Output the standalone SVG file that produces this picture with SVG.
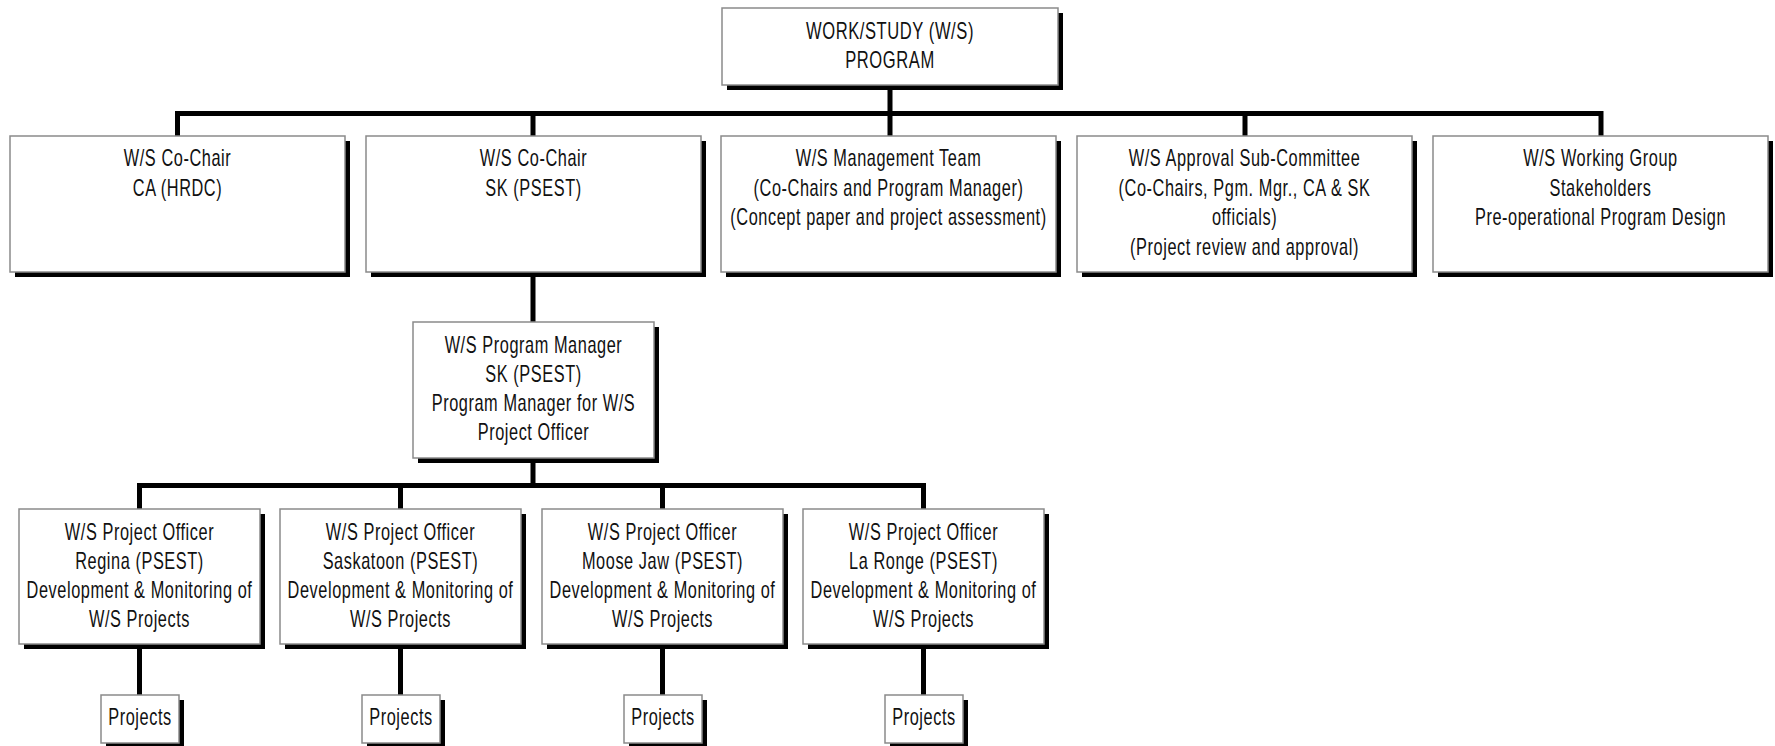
<svg xmlns="http://www.w3.org/2000/svg" width="1775" height="746" viewBox="0 0 1775 746">
<style>
.box{fill:#fff;stroke:#8a8a8a;stroke-width:1.5}
.shd{fill:#000}
.conn{fill:none;stroke:#000;stroke-width:5;stroke-linecap:square}
text{font-family:"Liberation Sans",Arial,sans-serif;font-size:23px;letter-spacing:0.8px;fill:#111;text-anchor:middle}
</style>
<rect width="1775" height="746" fill="#fff"/>
<g id="connectors">
<path class="conn" d="M890 86V113.5M177.5 113.5H1601M177.5 113.5V136M533 113.5V136M890 113.5V136M1245 113.5V136M1601 113.5V136"/>
<path class="conn" d="M533 272V322M533 458V485.5M139.5 485.5H923.5M139.5 485.5V509M400.5 485.5V509M662.5 485.5V509M923.5 485.5V509"/>
<path class="conn" d="M139.5 644V695M400.5 644V695M662.5 644V695M923.5 644V695"/>
</g>
<g id="n-top"><rect class="shd" x="727" y="13" width="336" height="77"/><rect class="box" x="722" y="8" width="336" height="77"/>
<g transform="translate(890 0) scale(0.72 1)"><text y="39.5">WORK/STUDY (W/S)</text><text y="68.5">PROGRAM</text></g></g>
<g id="n-cochair-ca"><rect class="shd" x="15" y="141" width="335" height="136"/><rect class="box" x="10" y="136" width="335" height="136"/>
<g transform="translate(177.5 0) scale(0.71 1)"><text y="166.5">W/S Co-Chair</text><text y="196">CA (HRDC)</text></g></g>
<g id="n-cochair-sk"><rect class="shd" x="371" y="141" width="335" height="136"/><rect class="box" x="366" y="136" width="335" height="136"/>
<g transform="translate(533.5 0) scale(0.71 1)"><text y="166.5">W/S Co-Chair</text><text y="196">SK (PSEST)</text></g></g>
<g id="n-mgmt"><rect class="shd" x="726" y="141" width="335" height="136"/><rect class="box" x="721" y="136" width="335" height="136"/>
<g transform="translate(888.5 0) scale(0.71 1)"><text y="166.5">W/S Management Team</text><text y="196">(Co-Chairs and Program Manager)</text><text y="225.5">(Concept paper and project assessment)</text></g></g>
<g id="n-approval"><rect class="shd" x="1082" y="141" width="335" height="136"/><rect class="box" x="1077" y="136" width="335" height="136"/>
<g transform="translate(1244.5 0) scale(0.71 1)"><text y="166.5">W/S Approval Sub-Committee</text><text y="196">(Co-Chairs, Pgm. Mgr., CA &amp; SK</text><text y="225.5">officials)</text><text y="255">(Project review and approval)</text></g></g>
<g id="n-working"><rect class="shd" x="1438" y="141" width="335" height="136"/><rect class="box" x="1433" y="136" width="335" height="136"/>
<g transform="translate(1600.5 0) scale(0.71 1)"><text y="166.5">W/S Working Group</text><text y="196">Stakeholders</text><text y="225.5">Pre-operational Program Design</text></g></g>
<g id="n-pm"><rect class="shd" x="418" y="327" width="241" height="136"/><rect class="box" x="413" y="322" width="241" height="136"/>
<g transform="translate(533.5 0) scale(0.71 1)"><text y="353">W/S Program Manager</text><text y="382">SK (PSEST)</text><text y="411">Program Manager for W/S</text><text y="440">Project Officer</text></g></g>
<g id="n-po-regina"><rect class="shd" x="24" y="514" width="241" height="135"/><rect class="box" x="19" y="509" width="241" height="135"/>
<g transform="translate(139.5 0) scale(0.71 1)"><text y="540">W/S Project Officer</text><text y="569">Regina (PSEST)</text><text y="598">Development &amp; Monitoring of</text><text y="627">W/S Projects</text></g></g>
<g id="n-po-saskatoon"><rect class="shd" x="285" y="514" width="241" height="135"/><rect class="box" x="280" y="509" width="241" height="135"/>
<g transform="translate(400.5 0) scale(0.71 1)"><text y="540">W/S Project Officer</text><text y="569">Saskatoon (PSEST)</text><text y="598">Development &amp; Monitoring of</text><text y="627">W/S Projects</text></g></g>
<g id="n-po-moosejaw"><rect class="shd" x="547" y="514" width="241" height="135"/><rect class="box" x="542" y="509" width="241" height="135"/>
<g transform="translate(662.5 0) scale(0.71 1)"><text y="540">W/S Project Officer</text><text y="569">Moose Jaw (PSEST)</text><text y="598">Development &amp; Monitoring of</text><text y="627">W/S Projects</text></g></g>
<g id="n-po-laronge"><rect class="shd" x="808" y="514" width="241" height="135"/><rect class="box" x="803" y="509" width="241" height="135"/>
<g transform="translate(923.5 0) scale(0.71 1)"><text y="540">W/S Project Officer</text><text y="569">La Ronge (PSEST)</text><text y="598">Development &amp; Monitoring of</text><text y="627">W/S Projects</text></g></g>
<g id="n-proj-1"><rect class="shd" x="106" y="700" width="78" height="48"/><rect class="box" x="101" y="695" width="78" height="48"/>
<g transform="translate(140 0) scale(0.71 1)"><text y="725">Projects</text></g></g>
<g id="n-proj-2"><rect class="shd" x="367" y="700" width="78" height="48"/><rect class="box" x="362" y="695" width="78" height="48"/>
<g transform="translate(401 0) scale(0.71 1)"><text y="725">Projects</text></g></g>
<g id="n-proj-3"><rect class="shd" x="629" y="700" width="78" height="48"/><rect class="box" x="624" y="695" width="78" height="48"/>
<g transform="translate(663 0) scale(0.71 1)"><text y="725">Projects</text></g></g>
<g id="n-proj-4"><rect class="shd" x="890" y="700" width="78" height="48"/><rect class="box" x="885" y="695" width="78" height="48"/>
<g transform="translate(924 0) scale(0.71 1)"><text y="725">Projects</text></g></g>
</svg>
